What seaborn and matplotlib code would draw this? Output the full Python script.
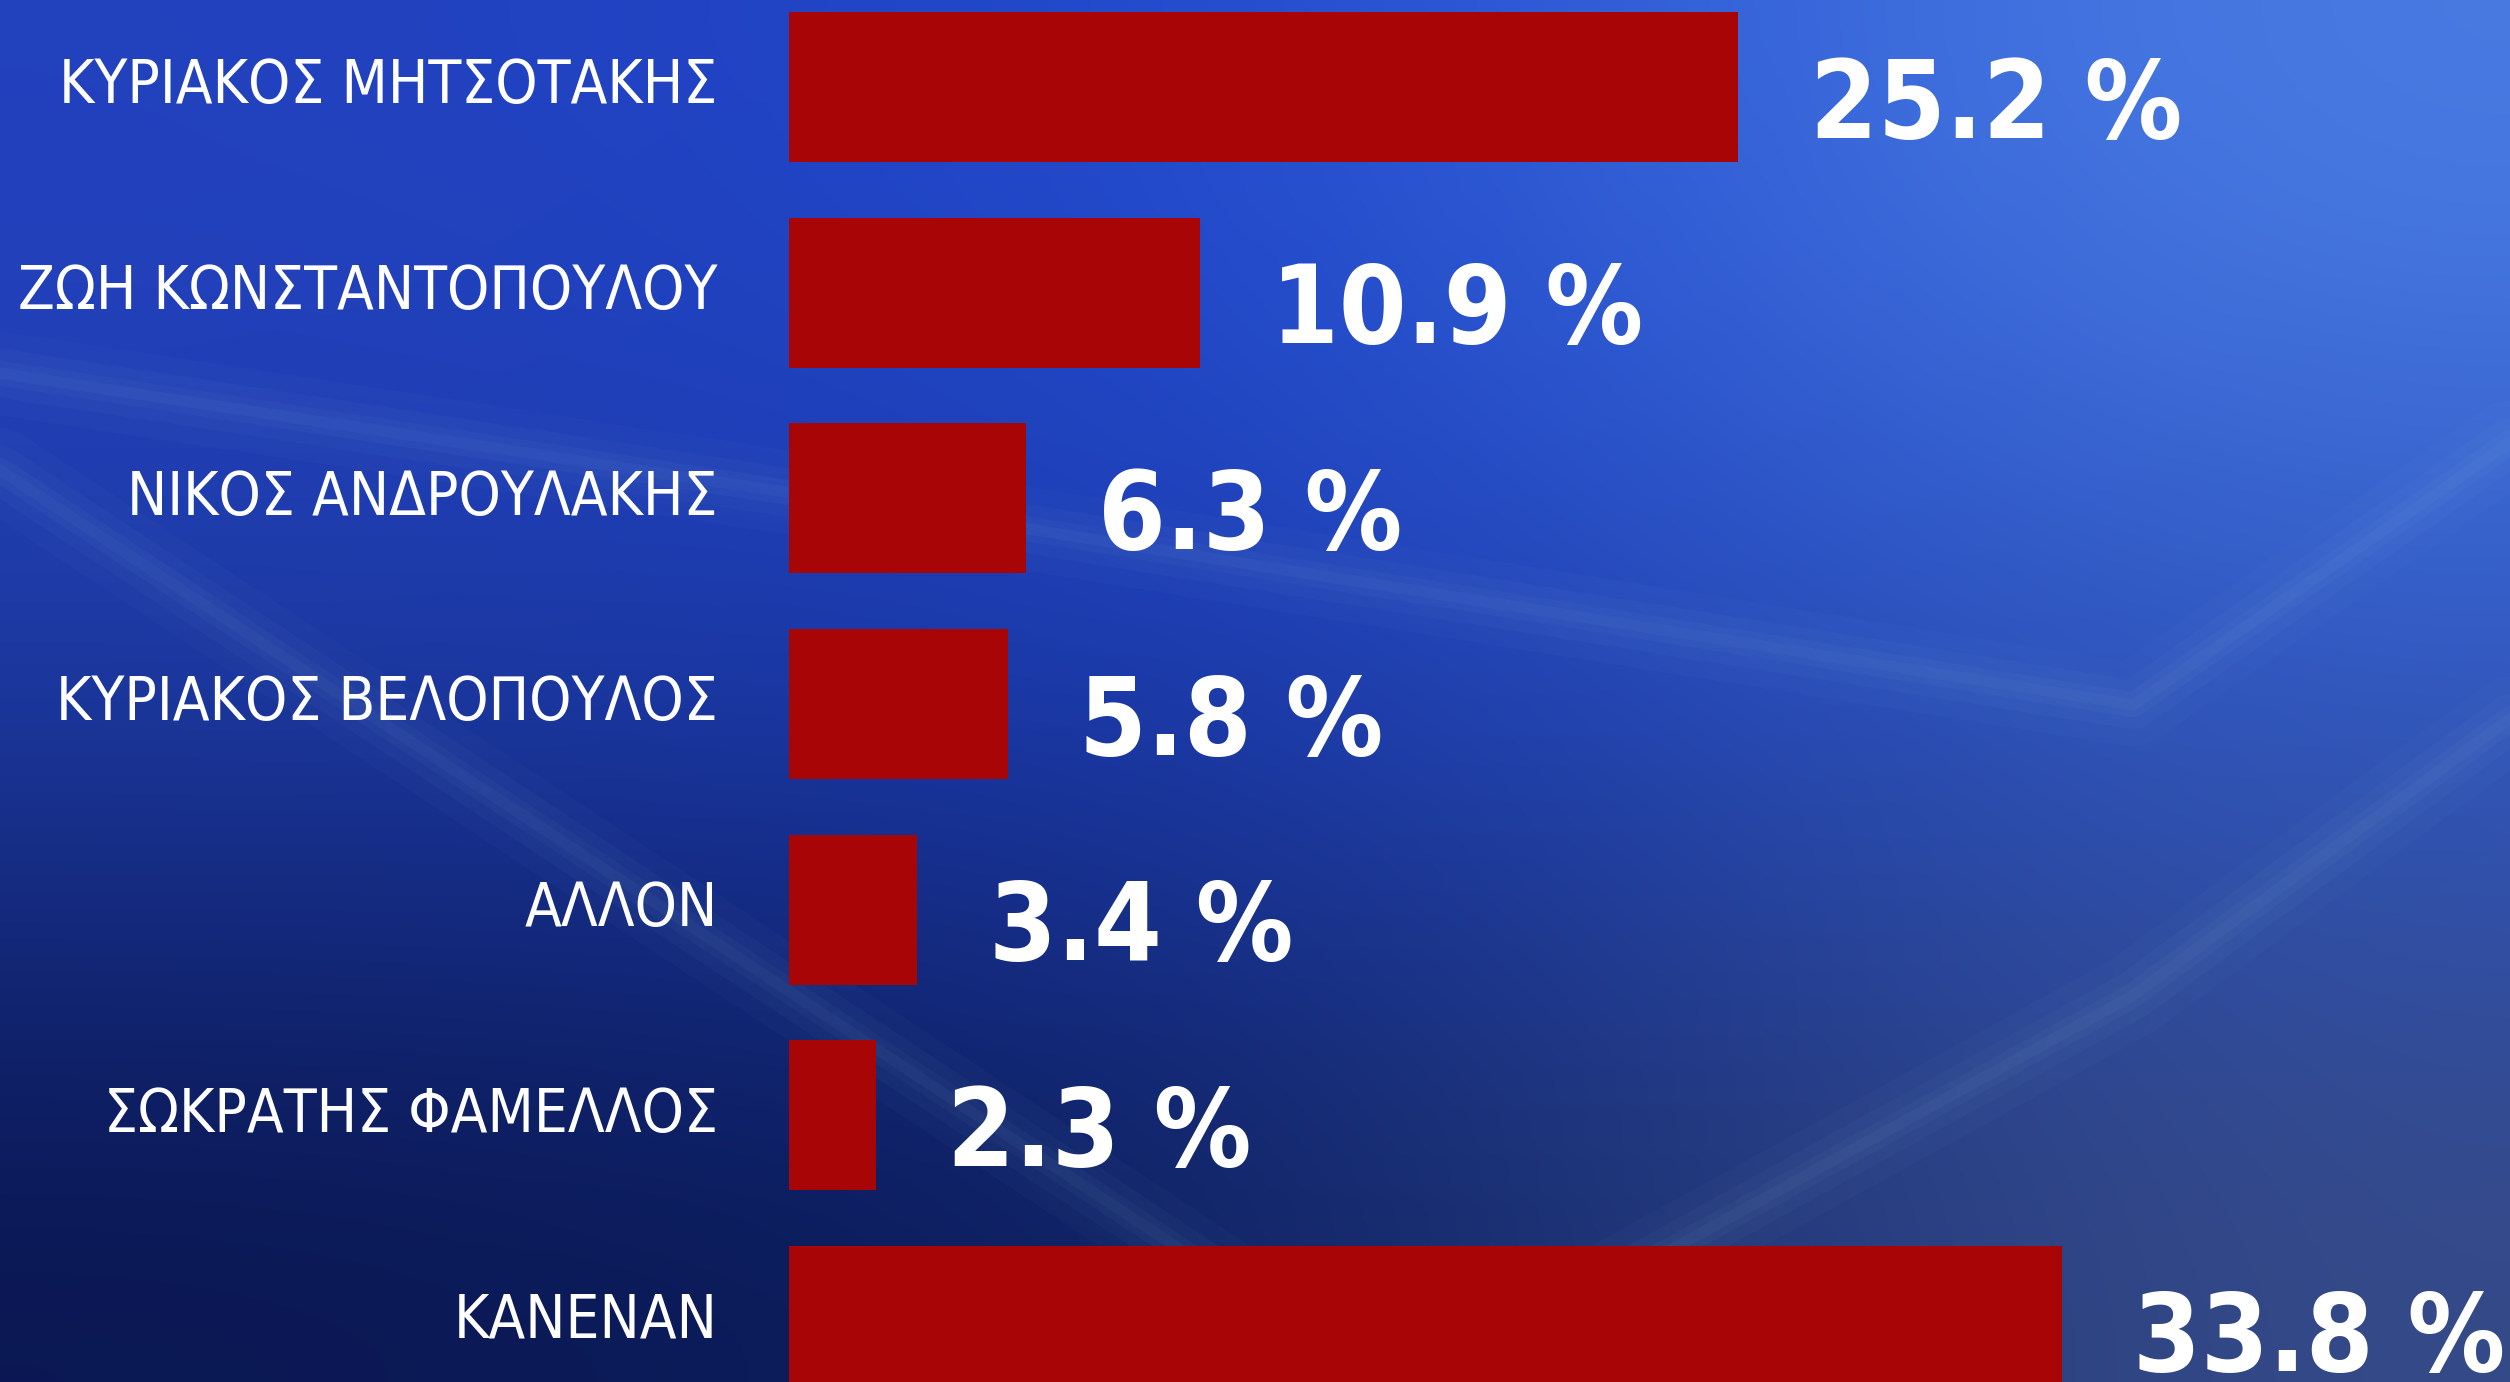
import os
import matplotlib
matplotlib.use("Agg")
import matplotlib.pyplot as plt
from matplotlib import font_manager
from matplotlib.font_manager import FontProperties
import numpy as np
import seaborn as sns

# poll results (percent)
names = [
    "ΚΥΡΙΑΚΟΣ ΜΗΤΣΟΤΑΚΗΣ",
    "ΖΩΗ ΚΩΝΣΤΑΝΤΟΠΟΥΛΟΥ",
    "ΝΙΚΟΣ ΑΝΔΡΟΥΛΑΚΗΣ",
    "ΚΥΡΙΑΚΟΣ ΒΕΛΟΠΟΥΛΟΣ",
    "ΑΛΛΟΝ",
    "ΣΩΚΡΑΤΗΣ ΦΑΜΕΛΛΟΣ",
    "ΚΑΝΕΝΑΝ",
]
values = [25.2, 10.9, 6.3, 5.8, 3.4, 2.3, 33.8]
value_labels = ["25.2 %", "10.9 %", "6.3 %", "5.8 %", "3.4 %", "2.3 %", "33.8 %"]

BAR_RED = "#a80606"


def weight_of(base):
    for w in ["ExtraBold", "SemiBold", "Bold", "Black", "Medium", "ExtraLight", "Light", "Thin"]:
        if w in base:
            return w
    return "Regular"


def find_font(weights):
    """look for a narrow/condensed greek-capable font file"""
    files = [f.fname for f in font_manager.fontManager.ttflist]
    prefixes = ["NotoSans-ExtraCondensed", "NotoSans-Condensed", "LiberationSansNarrow",
                "DejaVuSansCondensed", "OpenSans-Condensed", "OpenSans_Condensed",
                "RobotoCondensed", "NotoSans-SemiCondensed"]
    for p in prefixes:
        for w in weights:
            for fn in files:
                base = os.path.basename(fn)
                if not base.startswith(p) or "Italic" in base or "Oblique" in base:
                    continue
                rest = base[len(p):]
                if p == "NotoSans-Condensed" and rest.startswith("Semi"):
                    continue
                if weight_of(rest) == w:
                    return FontProperties(fname=fn)
    return None


label_fp = find_font(["Medium", "SemiBold", "Regular"]) or FontProperties(family="DejaVu Sans")
value_fp = find_font(["ExtraBold", "Black", "Bold"]) or FontProperties(family="DejaVu Sans",
                                                                          weight="bold")

sns.set_style("white")
plt.rcParams["font.family"] = ["DejaVu Sans"]

fig = plt.figure(figsize=(25.10, 13.82), dpi=100)
renderer = fig.canvas.get_renderer()


def fit_size(text, fp, width_px, max_size):
    t = fig.text(0, 0, text, fontproperties=fp, fontsize=100)
    w = t.get_window_extent(renderer=renderer).width
    t.remove()
    return min(max_size, 100 * width_px / w)


label_size = fit_size("ΖΩΗ ΚΩΝΣΤΑΝΤΟΠΟΥΛΟΥ", label_fp, 700, 56)
value_size = fit_size("25.2 %", value_fp, 372, 88)

# background: blue studio gradient with a few soft light streaks
bg = fig.add_axes([0, 0, 1, 1], zorder=0)
grad = np.array([
    [[35, 65, 190], [30, 72, 208], [75, 125, 228]],
    [[30, 60, 165], [25, 55, 178], [45, 85, 195]],
    [[10, 22, 80], [12, 32, 95], [55, 75, 135]],
]) / 255.0
bg.imshow(grad, extent=[0, 1, 0, 1], aspect="auto", interpolation="bicubic", origin="upper")
streaks = [
    ([0.0, 0.4, 0.85, 1.0], [0.73, 0.62, 0.49, 0.68]),
    ([0.0, 0.3, 0.55], [0.66, 0.3, 0.0]),
    ([0.62, 0.85, 1.0], [0.05, 0.28, 0.48]),
]
for xs, ys in streaks:
    for lw, a in [(60, 0.025), (35, 0.03), (18, 0.035), (8, 0.04)]:
        bg.plot(xs, ys, color="#a8d4ee", lw=lw, alpha=a, solid_capstyle="round",
                solid_joinstyle="round")
bg.set_xlim(0, 1)
bg.set_ylim(0, 1)
bg.axis("off")

ax = fig.add_axes([0, 0, 1, 1], zorder=1)
ax.patch.set_alpha(0)
sns.barplot(x=values, y=names, orient="h", color=BAR_RED, width=0.73,
            saturation=1, linewidth=0, edgecolor="none", ax=ax)

ax.set_xlim(-20.96, 45.7)
ax.set_ylim(6.297, -0.423)
ax.axis("off")

for i, (name, lab, v) in enumerate(zip(names, value_labels, values)):
    ax.text(-1.9, i, name, ha="right", va="center", color="white",
            fontproperties=label_fp, fontsize=label_size)
    ax.text(v + 1.9, i + 0.1, lab, ha="left", va="center", color="white",
            fontproperties=value_fp, fontsize=value_size)

fig.savefig("out.png", dpi=100)
